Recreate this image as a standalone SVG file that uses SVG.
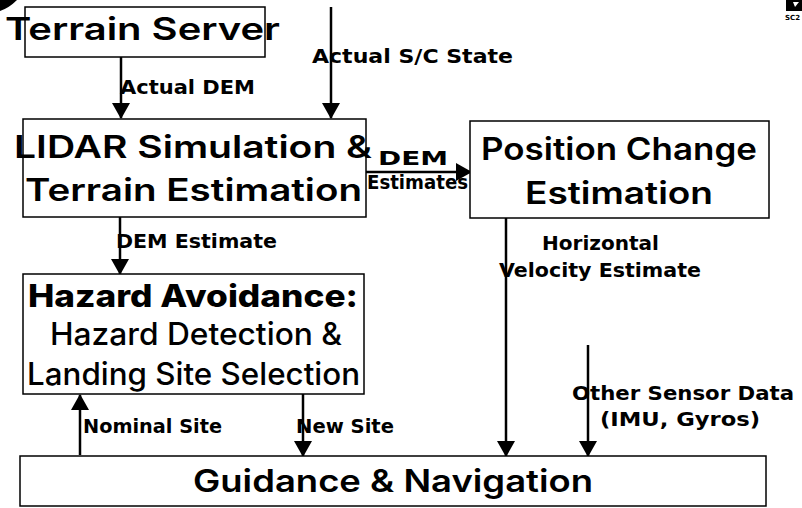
<svg xmlns="http://www.w3.org/2000/svg" width="802" height="508" viewBox="0 0 802 508">
  <style>
    .box { fill: #fff; stroke: #000; stroke-width: 1.5; }
    .head { font-family: Inter, "DejaVu Sans", sans-serif; font-size: 31px; font-weight: 600; fill: #000; }
    .bold { font-weight: 800; }
    .sub { font-weight: 500; }
    .lbl { font-family: "DejaVu Sans", "Liberation Sans", sans-serif; font-size: 20px; font-weight: bold; fill: #000; }
    .wire { stroke: #000; stroke-width: 2.5; fill: none; marker-end: url(#arrow); }
  </style>
  <defs>
    <!-- filled triangular head, pointing along the line direction -->
    <marker id="arrow" markerWidth="16" markerHeight="18" refX="15" refY="9" orient="auto" markerUnits="userSpaceOnUse" viewBox="0 0 16 18">
      <path d="M0,0 L16,9 L0,18 Z" fill="#000"/>
    </marker>
  </defs>

  <!-- corner marks -->
  <path d="M0,0 L17,0 Q9,8 0,11 Z" fill="#000"/>
  <g id="logo">
    <rect x="786" y="0" width="16" height="11" fill="#000"/>
    <path d="M793,2 L799,2 L795,7 Z" fill="#fff"/>
    <text x="785" y="20" font-family="DejaVu Sans, sans-serif" font-size="7" font-weight="bold" fill="#000">SC2</text>
  </g>

  <!-- connectors -->
  <g id="connectors">
    <line class="wire" x1="121" y1="57" x2="121" y2="118"/>
    <line class="wire" x1="331" y1="7" x2="331" y2="118"/>
    <line class="wire" x1="366" y1="172" x2="471" y2="172"/>
    <line class="wire" x1="120" y1="217" x2="120" y2="274"/>
    <line class="wire" x1="506" y1="218" x2="506" y2="456"/>
    <line class="wire" x1="588" y1="345" x2="588" y2="456"/>
    <line class="wire" x1="80" y1="455" x2="80" y2="395"/>
    <line class="wire" x1="303" y1="394" x2="303" y2="456"/>
    <text class="lbl" x="120" y="94" textLength="135" lengthAdjust="spacingAndGlyphs">Actual DEM</text>
    <text class="lbl" x="312" y="63" textLength="201" lengthAdjust="spacingAndGlyphs">Actual S/C State</text>
    <text class="lbl" x="378" y="165" font-size="18" textLength="70" lengthAdjust="spacingAndGlyphs">DEM</text>
    <text class="lbl" x="367" y="189" font-size="16" textLength="101" lengthAdjust="spacingAndGlyphs">Estimates</text>
    <text class="lbl" x="116" y="248" textLength="161" lengthAdjust="spacingAndGlyphs">DEM Estimate</text>
    <text class="lbl" x="542" y="250" textLength="117" lengthAdjust="spacingAndGlyphs">Horizontal</text>
    <text class="lbl" x="499" y="277" textLength="202" lengthAdjust="spacingAndGlyphs">Velocity Estimate</text>
    <text class="lbl" x="572" y="400" textLength="222" lengthAdjust="spacingAndGlyphs">Other Sensor Data</text>
    <text class="lbl" x="600" y="426" textLength="160" lengthAdjust="spacingAndGlyphs">(IMU, Gyros)</text>
    <text class="lbl" x="83" y="433" textLength="139" lengthAdjust="spacingAndGlyphs">Nominal Site</text>
    <text class="lbl" x="296" y="433" textLength="98" lengthAdjust="spacingAndGlyphs">New Site</text>
  </g>

  <g id="terrain-server">
    <rect class="box" x="25" y="7" width="240" height="50"/>
    <text class="head" x="5" y="40" textLength="275" lengthAdjust="spacingAndGlyphs">Terrain Server</text>
  </g>

  <g id="lidar">
    <rect class="box" x="23" y="119" width="343" height="98"/>
    <text class="head" x="14" y="158" textLength="358" lengthAdjust="spacingAndGlyphs">LIDAR Simulation &amp;</text>
    <text class="head" x="25" y="201" textLength="337" lengthAdjust="spacingAndGlyphs">Terrain Estimation</text>
  </g>

  <g id="position-change">
    <rect class="box" x="470" y="121" width="299" height="97"/>
    <text class="head" x="481" y="160" textLength="276" lengthAdjust="spacingAndGlyphs">Position Change</text>
    <text class="head" x="525" y="204" textLength="188" lengthAdjust="spacingAndGlyphs">Estimation</text>
  </g>

  <g id="hazard">
    <rect class="box" x="23" y="274" width="341" height="120"/>
    <text class="head bold" x="28" y="307" textLength="330" lengthAdjust="spacingAndGlyphs">Hazard Avoidance:</text>
    <text class="head sub" x="50" y="345" font-size="28" textLength="292" lengthAdjust="spacingAndGlyphs">Hazard Detection &amp;</text>
    <text class="head sub" x="27" y="385" font-size="28" textLength="333" lengthAdjust="spacingAndGlyphs">Landing Site Selection</text>
  </g>

  <g id="guidance">
    <rect class="box" x="20" y="456" width="746" height="50"/>
    <text class="head" x="193" y="492" textLength="400" lengthAdjust="spacingAndGlyphs">Guidance &amp; Navigation</text>
  </g>
</svg>
